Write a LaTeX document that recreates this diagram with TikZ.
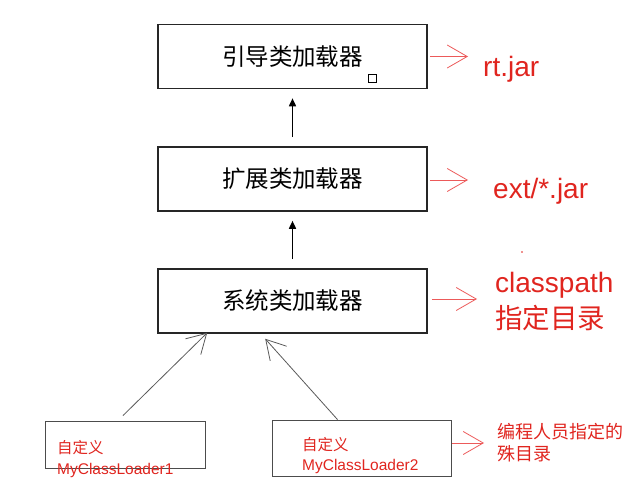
\documentclass[tikz,border=0pt]{standalone}
\usepackage{fontspec}
\setmainfont{Liberation Sans}
\newfontfamily\cjk{Noto Sans CJK SC}
\usetikzlibrary{arrows.meta}
\definecolor{notered}{HTML}{E0251F}
\definecolor{linkred}{HTML}{EC5A5A}

\begin{document}
\begin{tikzpicture}[x=1pt,y=-1pt,
  loader/.style={draw=black!85,line width=1.6pt,minimum width=269pt,minimum height=64pt,font=\cjk\fontsize{23.5}{28}\selectfont},
  custom/.style={draw=black!70,line width=0.9pt},
  jarpath/.style={text=notered,inner sep=0pt,font=\fontsize{28}{32}\selectfont},
  small/.style={text=notered,inner sep=0pt,font=\fontsize{15.5}{18}\selectfont},
  up/.style={-{Triangle[length=8pt,width=7pt]},line width=1.6pt,shorten <=9pt,shorten >=9pt},
  points/.style={-{Straight Barb[length=20pt,width=23pt]},linkred,line width=0.8pt},
  parent/.style={-{Straight Barb[length=19pt,width=22pt]},black!65,line width=0.8pt}]
\useasboundingbox (0,0) rectangle (633,495);
% the three built-in loaders
\node[loader] (boot) at (292.5,56.5) {引导类加载器};
\node[loader] (ext) at (292.5,179) {扩展类加载器};
\node[loader] (sys) at (292.5,301) {系统类加载器};
\draw[up] (ext) -- (boot);
\draw[up] (sys) -- (ext);
% user loaders
\node[custom,minimum width=160pt,minimum height=47pt] (own1) at (125,444.5) {};
\node[custom,minimum width=179pt,minimum height=56pt] (own2) at (361.5,448) {};
\draw[parent] ([xshift=-2pt,yshift=5pt]own1.north) -- ([xshift=50pt,yshift=1pt]sys.south west);
\draw[parent] ([xshift=-24pt]own2.north) -- ([xshift=108pt,yshift=-5pt]sys.south west);
% where each one loads from
\coordinate (rtend) at (468,56.5);
\coordinate (extend) at (468,180);
\coordinate (cpend) at (477,299);
\coordinate (devend) at (484,443);
\draw[points] ([xshift=2pt]boot.east) -- (rtend);
\draw[points] ([xshift=2pt,yshift=-1pt]ext.east) -- (extend);
\draw[points] ([xshift=4pt,yshift=2pt]sys.east) -- (cpend);
\draw[points] ([xshift=1pt,yshift=5pt]own2.east) -- (devend);
\node[jarpath,anchor=base west] (rt) at (483,77) {rt.jar};
\node[jarpath,anchor=base west] (extjar) at (493,198) {ext/*.jar};
\node[jarpath,anchor=base west] (cp) at (495,292) {classpath};
\node[jarpath,anchor=west,font=\cjk\fontsize{27.5}{32}\selectfont] (cpdir) at (495,318) {指定目录};
\node[small,anchor=west,font=\cjk\fontsize{18}{22}\selectfont] (devdir) at (497,432) {编程人员指定的};
\node[small,anchor=west,font=\cjk\fontsize{18}{22}\selectfont] (devdir2) at (497,454) {殊目录};
\node[small,anchor=west,font=\cjk\fontsize{15.5}{18}\selectfont] (own1cn) at (57,448) {自定义};
\node[small,anchor=base west] (own1en) at (57,474) {MyClassLoader1};
\node[small,anchor=west,font=\cjk\fontsize{15.5}{18}\selectfont] (own2cn) at (302,445) {自定义};
\node[small,anchor=base west] (own2en) at (302,470.5) {MyClassLoader2};
% stray marks
\draw[line width=0.8pt] (368,74) rectangle (376,82);
\fill[notered] (522,252) circle (0.8);
\end{tikzpicture}
\end{document}
